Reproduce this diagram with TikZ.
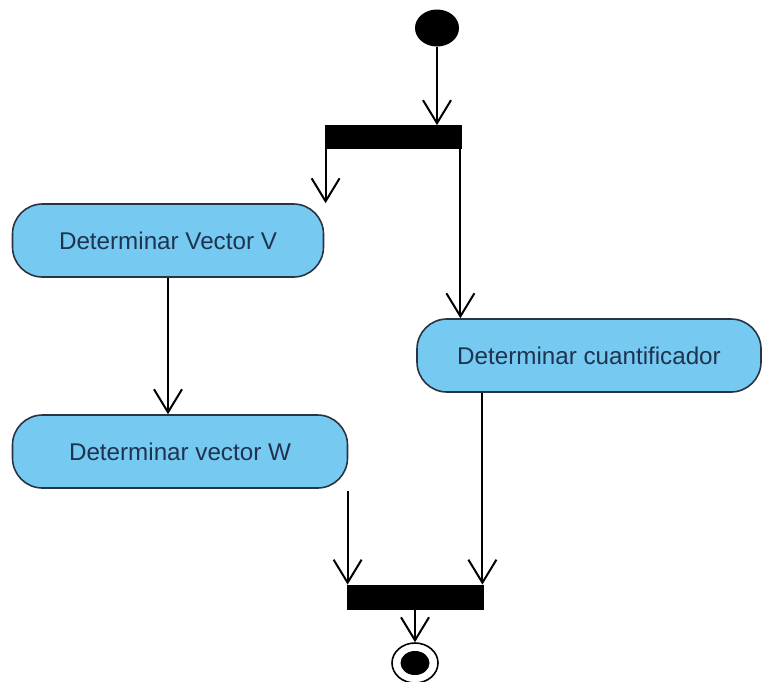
\documentclass[tikz,border=0pt]{standalone}
\usepackage{fontspec}
\setmainfont{Liberation Sans}
\usepackage{tikz}
\usetikzlibrary{shapes.geometric,arrows.meta,positioning}
\definecolor{actfill}{HTML}{76CAF1}
\definecolor{acttext}{HTML}{1E3350}
\definecolor{actline}{HTML}{2A3340}

\begin{document}
\begin{tikzpicture}[x=0.5pt,y=-0.5pt,
  act/.style={draw=actline,line width=0.8pt,fill=actfill,rounded corners=15pt,minimum height=36.5pt,inner sep=0pt,text=acttext,font=\fontsize{12.1}{14}\selectfont},
  bar/.style={draw=black,fill=black,minimum width=68pt,minimum height=11.5pt,inner sep=0pt},
  flow/.style={line width=1pt,-{Straight Barb[length=11.5pt,width=14pt]}}]
  \useasboundingbox (0,0) rectangle (764,681);
  \node[ellipse,fill=black,minimum width=22pt,minimum height=18.5pt,inner sep=0pt] (start) at (437,28) {};
  \node[bar] (fork) at (393,137) {};
  \node[act,minimum width=155.5pt] (vecv) at (168,240.5) {Determinar Vector V};
  \node[act,minimum width=172pt] (cuant) at (589,355.5) {Determinar cuantificador};
  \node[act,minimum width=167.5pt] (vecw) at (180,451.5) {Determinar vector W};
  \node[bar,minimum height=12pt] (join) at (415,597) {};
  \node[ellipse,draw=black,line width=0.8pt,fill=white,minimum width=23pt,minimum height=20pt,inner sep=0pt] (finish) at (415,663) {};
  \node[ellipse,fill=black,minimum width=14.5pt,minimum height=12pt,inner sep=0pt] (finishdot) at (finish) {};
  % control flow
  \draw[flow] (start) -- (start |- fork.north);
  \draw[flow] ([xshift=0.5pt]fork.south west) -- ([xshift=0.5pt]fork.south west |- vecv.north);
  \draw[flow] ([xshift=-0.5pt]fork.south east) -- ([xshift=-0.5pt]fork.south east |- cuant.north);
  \draw[flow] (vecv.south) -- (vecv.south |- vecw.north);
  \draw[flow] ([xshift=0.5pt,yshift=-1pt]join.north west |- vecw.south) -- ([xshift=0.5pt]join.north west);
  \draw[flow] ([xshift=-0.5pt]cuant.south -| join.north east) -- ([xshift=-0.5pt]join.north east);
  \draw[flow] (join.south) -- (finish.north);
\end{tikzpicture}
\end{document}
